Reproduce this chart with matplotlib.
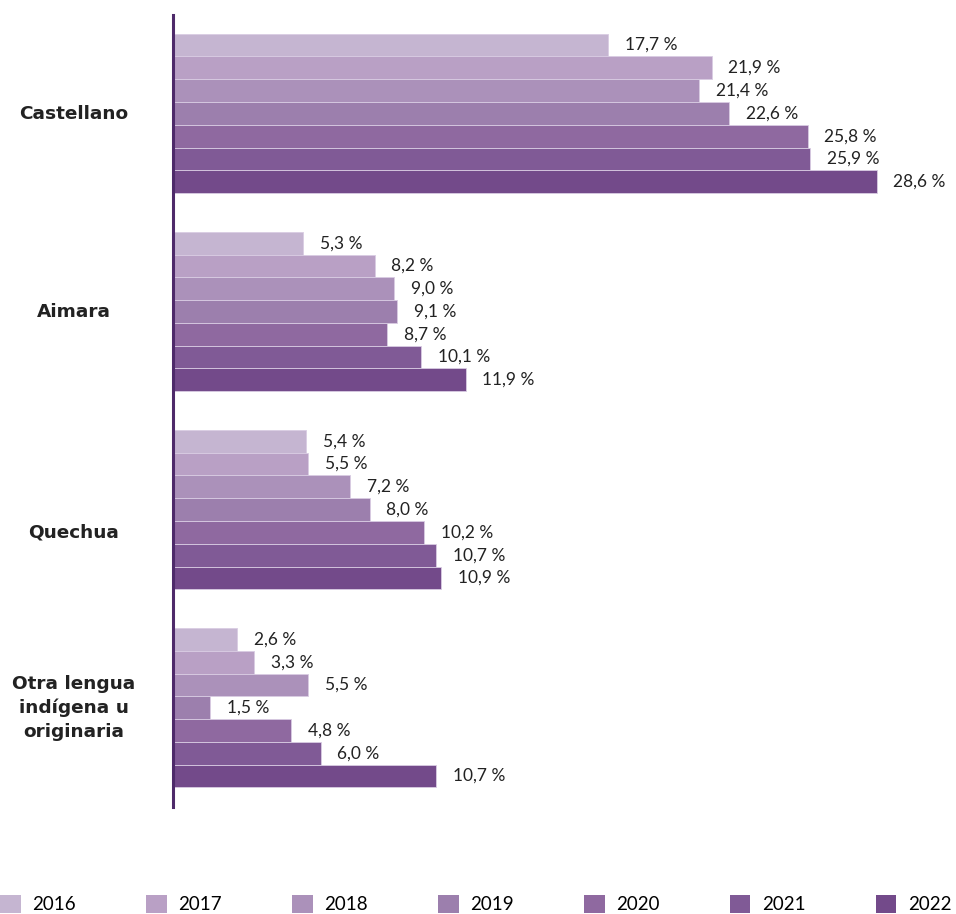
import numpy as np
import matplotlib.pyplot as plt
from matplotlib.patches import Patch

categories = ["Castellano", "Aimara", "Quechua", "Otra lengua\nindígena u\noriginaria"]
years = ["2016", "2017", "2018", "2019", "2020", "2021", "2022"]
values = {
    "2016": [17.7, 5.3, 5.4, 2.6],
    "2017": [21.9, 8.2, 5.5, 3.3],
    "2018": [21.4, 9.0, 7.2, 5.5],
    "2019": [22.6, 9.1, 8.0, 1.5],
    "2020": [25.8, 8.7, 10.2, 4.8],
    "2021": [25.9, 10.1, 10.7, 6.0],
    "2022": [28.6, 11.9, 10.9, 10.7],
}
colors = ["#C5B5D1", "#B9A0C5", "#AB91BA", "#9C7FAD", "#8F69A0", "#805A96", "#734A8A"]

plt.rcParams['font.family'] = ['Lato', 'DejaVu Sans']

fig = plt.figure(figsize=(9.56, 9.14), dpi=100)
ax = fig.add_axes([173/956, 1-807/914, 738/956, (807-15)/914])

group_gap = 8.7
bar_h = 1.0
for j, y in enumerate(years):
    pos = np.arange(len(categories)) * group_gap + j * bar_h
    ax.barh(pos, values[y], height=bar_h, color=colors[j], edgecolor="#D9CCE3",
            linewidth=0.6)
    for p, v in zip(pos, values[y]):
        ax.annotate(f"{v:.1f} %".replace(".", ","), (v, p), xytext=(12, 0),
                    textcoords="offset points", va="center", ha="left",
                    fontsize=12.5, color="#222222")

ax.set_xlim(0, 30)
ax.set_ylim(3 * group_gap + 6 + 1.36, -1.32)
ax.set_xticks([])
ax.set_yticks([])
for s in ["top", "right", "bottom"]:
    ax.spines[s].set_visible(False)
ax.spines["left"].set_color("#4E2A6A")
ax.spines["left"].set_linewidth(2.2)

label_x = 74 / 956
label_y = [114, 312, 532, 708]
for c, ly in zip(categories, label_y):
    fig.text(label_x, 1 - ly / 914, c, ha="center", va="center", fontsize=13.3,
             fontweight="bold", color="#222222", linespacing=1.4,
             family="DejaVu Sans")

handles = [Patch(facecolor=colors[j], edgecolor="none") for j in range(len(years))]
fig.legend(handles, years, loc="lower left", bbox_to_anchor=(0.0, 0.001, 0.995, 0.02),
           mode="expand", ncol=7, frameon=False, fontsize=13.5, handlelength=1.1,
           handleheight=1.1, handletextpad=0.6, borderaxespad=0, borderpad=0)

fig.savefig("out.png", dpi=100)
